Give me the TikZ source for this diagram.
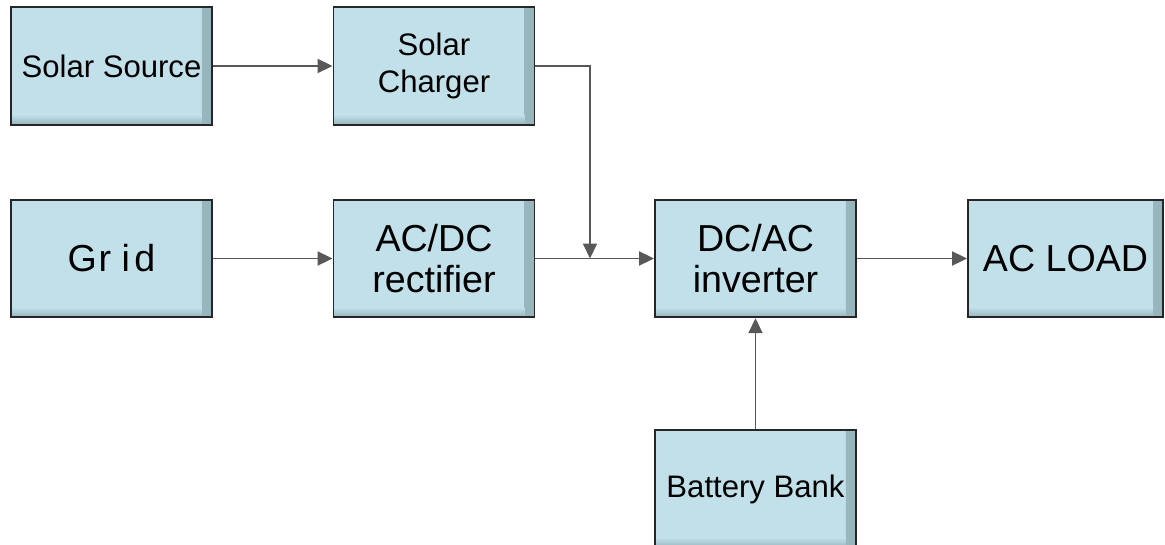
\documentclass[tikz,border=0pt]{standalone}
\usepackage{fontspec}
\setmainfont{Liberation Sans}
\usetikzlibrary{arrows.meta}
\definecolor{boxfill}{RGB}{193,224,233}
\definecolor{boxedge}{RGB}{150,180,188}
\definecolor{wire}{RGB}{88,88,88}

\begin{document}
\begin{tikzpicture}[x=0.02cm,y=-0.02cm,
  block/.style={draw=black!85,line width=1.1pt,fill=boxfill,align=center,inner sep=0pt,minimum width=4.02cm,minimum height=2.35cm,
    path picture={
      \shade[left color=boxfill,right color=boxedge] ([xshift=-0.2cm]path picture bounding box.north east) rectangle (path picture bounding box.south east);
      \shade[top color=boxfill,bottom color=boxedge] ([yshift=0.2cm]path picture bounding box.south west) rectangle ([xshift=-0.2cm]path picture bounding box.south east);}},
  small/.style={font=\fontsize{17.7}{21}\selectfont},
  big/.style={font=\fontsize{21.4}{23.5}\selectfont},
  arrow/.style={-{Triangle[length=3mm,width=2.8mm]},line width=1.1pt,draw=wire}
]
\useasboundingbox (0,0) rectangle (1165,544);

\node[block,small] (src) at (111.5,66) {Solar Source};
\node[block,small] (chg) at (434,66) {Solar\\Charger};
\node[block,big] (grid) at (111.5,258.5) {G\kern1pt r\kern6pt i\kern2.5pt d};
\node[block,big] (rect) at (434,258.5) {AC/DC\\rectifier};
\node[block,big] (inv) at (755.5,258.5) {DC/AC\\inverter};
\node[block,big,minimum width=3.9cm] (load) at (1065.5,258.5) {AC LOAD};
\node[block,small] (bat) at (755.5,489) {Battery Bank};
\coordinate (join) at (590,258.5);

\draw[arrow] (src) -- (chg);
\draw[arrow] (grid) -- (rect);
\draw[arrow] (chg.east) -| (join);
\draw[arrow] (rect) -- (inv);
\draw[arrow] (inv) -- (load);
\draw[arrow] (bat) -- (inv);
\end{tikzpicture}
\end{document}
